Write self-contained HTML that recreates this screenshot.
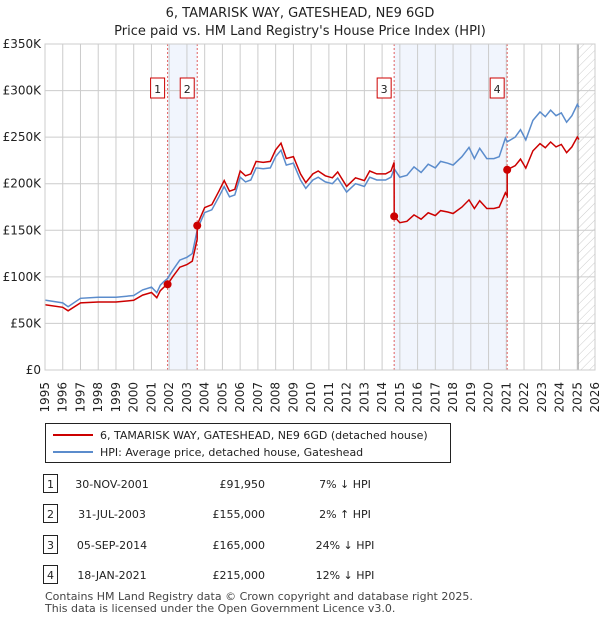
<!DOCTYPE html>
<html><head><meta charset="utf-8"><style>
body{margin:0;background:#fff;font-family:"Liberation Sans","DejaVu Sans",sans-serif;}
svg text{font-family:"DejaVu Sans","Liberation Sans",sans-serif;}
</style></head><body>
<svg id="c" width="600" height="620" xmlns="http://www.w3.org/2000/svg"></svg>
<script>
const hpiDates=[1995.0,1996.0,1996.3,1997.0,1998.0,1999.0,2000.0,2000.5,2001.0,2001.3,2001.5,2001.7,2001.9,2002.2,2002.6,2003.0,2003.3,2003.5,2003.6,2004.0,2004.4,2004.8,2005.1,2005.4,2005.7,2006.0,2006.3,2006.6,2006.9,2007.3,2007.7,2008.0,2008.3,2008.6,2009.0,2009.4,2009.7,2010.1,2010.4,2010.8,2011.2,2011.5,2012.0,2012.5,2013.0,2013.3,2013.7,2014.2,2014.5,2014.68,2015.0,2015.4,2015.8,2016.2,2016.6,2017.0,2017.3,2017.7,2018.0,2018.5,2018.9,2019.2,2019.5,2019.9,2020.3,2020.6,2020.95,2021.05,2021.5,2021.8,2022.1,2022.5,2022.9,2023.2,2023.5,2023.8,2024.1,2024.4,2024.7,2025.0,2025.1];
const hpiValues=[75,72,68,77,78,78,80,86,89,83,91,95,98,107,118,121,125,143,152,169,172,186,197,186,188,207,202,204,217,216,217,229,236,220,222,204,195,204,207,202,200,206,191,200,197,207,204,204,207,216,207,209,218,212,221,217,224,222,220,229,239,227,238,227,227,229,249,245,250,258,247,268,277,272,279,273,276,266,273,285,282];
const saleDates=[2001.91,2003.58,2014.68,2021.05];
const salePrices=[91950,155000,165000,215000];
const saleLabels=["1","2","3","4"];
const yTicks=[0,50,100,150,200,250,300,350];
const yTickLabels=["£0","£50K","£100K","£150K","£200K","£250K","£300K","£350K"];
const xYears=[];for(let y=1995;y<=2026;y++)xYears.push(y);
const tableDates=["30-NOV-2001","31-JUL-2003","05-SEP-2014","18-JAN-2021"];
const tablePrices=["£91,950","£155,000","£165,000","£215,000"];
const tablePcts=["7% \u2193 HPI","2% \u2191 HPI","24% \u2193 HPI","12% \u2193 HPI"];

const L=45,R=595,T=44,B=370;
const X=d=>L+(d-1995)*(R-L)/31;
const Y=v=>B-v*(B-T)/350;
const svg=document.getElementById('c');
const NS='http://www.w3.org/2000/svg';
function mk(tag,at,txt){const e=document.createElementNS(NS,tag);for(const k in at)e.setAttribute(k,at[k]);if(txt!==undefined)e.textContent=txt;svg.appendChild(e);return e;}
function hpiAt(d){for(let i=0;i<hpiDates.length-1;i++){if(d<=hpiDates[i+1]){const t=(d-hpiDates[i])/(hpiDates[i+1]-hpiDates[i]);return hpiValues[i]+t*(hpiValues[i+1]-hpiValues[i]);}}return hpiValues[hpiValues.length-1];}

let e;
e=mk('text',{x:300,y:17,'text-anchor':'middle','font-size':13,fill:'#222'},'6, TAMARISK WAY, GATESHEAD, NE9 6GD');

e=mk('text',{x:300,y:35,'text-anchor':'middle','font-size':13,fill:'#222'},"Price paid vs. HM Land Registry's House Price Index (HPI)");


[[0,1],[2,3]].forEach((p,i)=>{const r=mk('rect',{x:X(saleDates[p[0]]),y:T,width:X(saleDates[p[1]])-X(saleDates[p[0]]),height:B-T,fill:'#eef3fc',opacity:0.8});
});
const defs=mk('defs',{});
defs.innerHTML='<pattern id="h" width="6" height="6" patternUnits="userSpaceOnUse" patternTransform="rotate(45)"><line x1="0" y1="0" x2="0" y2="6" stroke="#ccc" stroke-width="1"/></pattern>';
e=mk('rect',{x:X(2025.05),y:T,width:R-X(2025.05),height:B-T,fill:'url(#h)'});


xYears.forEach(y=>{const g=mk('line',{x1:X(y),x2:X(y),y1:T,y2:B,stroke:'#ccc','stroke-width':1});

const tx=X(y)+4,ty=B+12;
const t=mk('text',{x:tx,y:ty,'text-anchor':'end','font-size':12,fill:'#222',transform:`rotate(-90 ${tx} ${ty})`},String(y));
});
yTicks.forEach((v,i)=>{const g=mk('line',{x1:L,x2:R,y1:Y(v),y2:Y(v),stroke:'#ccc','stroke-width':1});

const t=mk('text',{x:L-4,y:Y(v)+4,'text-anchor':'end','font-size':12,fill:'#222'},yTickLabels[i]);
});
e=mk('line',{x1:X(2025.05),x2:X(2025.05),y1:T,y2:B,stroke:'#999','stroke-width':1});


saleDates.forEach((d,i)=>{const l=mk('line',{x1:X(d),x2:X(d),y1:T,y2:B,stroke:'#e06060','stroke-width':1,'stroke-dasharray':'2,2'});

const bx=X(d)-17;const r=mk('rect',{x:bx,y:78,width:14,height:20,fill:'#fff',stroke:'#c00','stroke-width':1});

const t=mk('text',{x:bx+7,y:93,'text-anchor':'middle','font-size':11,fill:'#222'},saleLabels[i]);
});

let pts=hpiDates.map((d,i)=>X(d).toFixed(1)+','+Y(hpiValues[i]).toFixed(1)).join(' ');
e=mk('polyline',{points:pts,fill:'none',stroke:'#5b8ccc','stroke-width':1.5});

function redAt(d){let k=0;for(let i=0;i<saleDates.length;i++)if(d>=saleDates[i])k=i;return salePrices[k]/1000*hpiAt(d)/hpiAt(saleDates[k]);}
const rd=[...hpiDates];saleDates.forEach(s=>{rd.push(s-0.001);rd.push(s);});rd.sort((a,b)=>a-b);
pts=rd.map(d=>X(d).toFixed(1)+','+Y(redAt(d)).toFixed(1)).join(' ');
e=mk('polyline',{points:pts,fill:'none',stroke:'#cc0000','stroke-width':1.5});

saleDates.forEach((d,i)=>{const c=mk('circle',{cx:X(d),cy:Y(salePrices[i]/1000),r:4,fill:'#cc0000'});
});
e=mk('rect',{x:L,y:T,width:R-L,height:B-T,fill:'none',stroke:'#ccc'});


e=mk('rect',{x:45.5,y:423.5,width:405,height:39,fill:'#fff',stroke:'#222'});

e=mk('line',{x1:53,x2:93,y1:435,y2:435,stroke:'#cc0000','stroke-width':2});

e=mk('text',{x:100,y:439,'font-size':11,fill:'#222'},'6, TAMARISK WAY, GATESHEAD, NE9 6GD (detached house)');

e=mk('line',{x1:53,x2:93,y1:452,y2:452,stroke:'#5b8ccc','stroke-width':2});

e=mk('text',{x:100,y:456,'font-size':11,fill:'#222'},'HPI: Average price, detached house, Gateshead');


const rowY=[484,514,545,575];
rowY.forEach((y,i)=>{
const r=mk('rect',{x:43.5,y:y-9.5,width:14,height:18,fill:'#fff',stroke:'#222'});

let t=mk('text',{x:50.5,y:y+4,'text-anchor':'middle','font-size':11,fill:'#222'},saleLabels[i]);

t=mk('text',{x:112,y:y+4,'text-anchor':'middle','font-size':11,fill:'#222'},tableDates[i]);

t=mk('text',{x:265,y:y+4,'text-anchor':'end','font-size':11,fill:'#222'},tablePrices[i]);

t=mk('text',{x:345,y:y+4,'text-anchor':'middle','font-size':11,fill:'#222'},tablePcts[i]);
});

e=mk('text',{x:45,y:600,'font-size':11,fill:'#444'},'Contains HM Land Registry data \u00a9 Crown copyright and database right 2025.');

e=mk('text',{x:45,y:612,'font-size':11,fill:'#444'},'This data is licensed under the Open Government Licence v3.0.');

</script>
</body></html>
